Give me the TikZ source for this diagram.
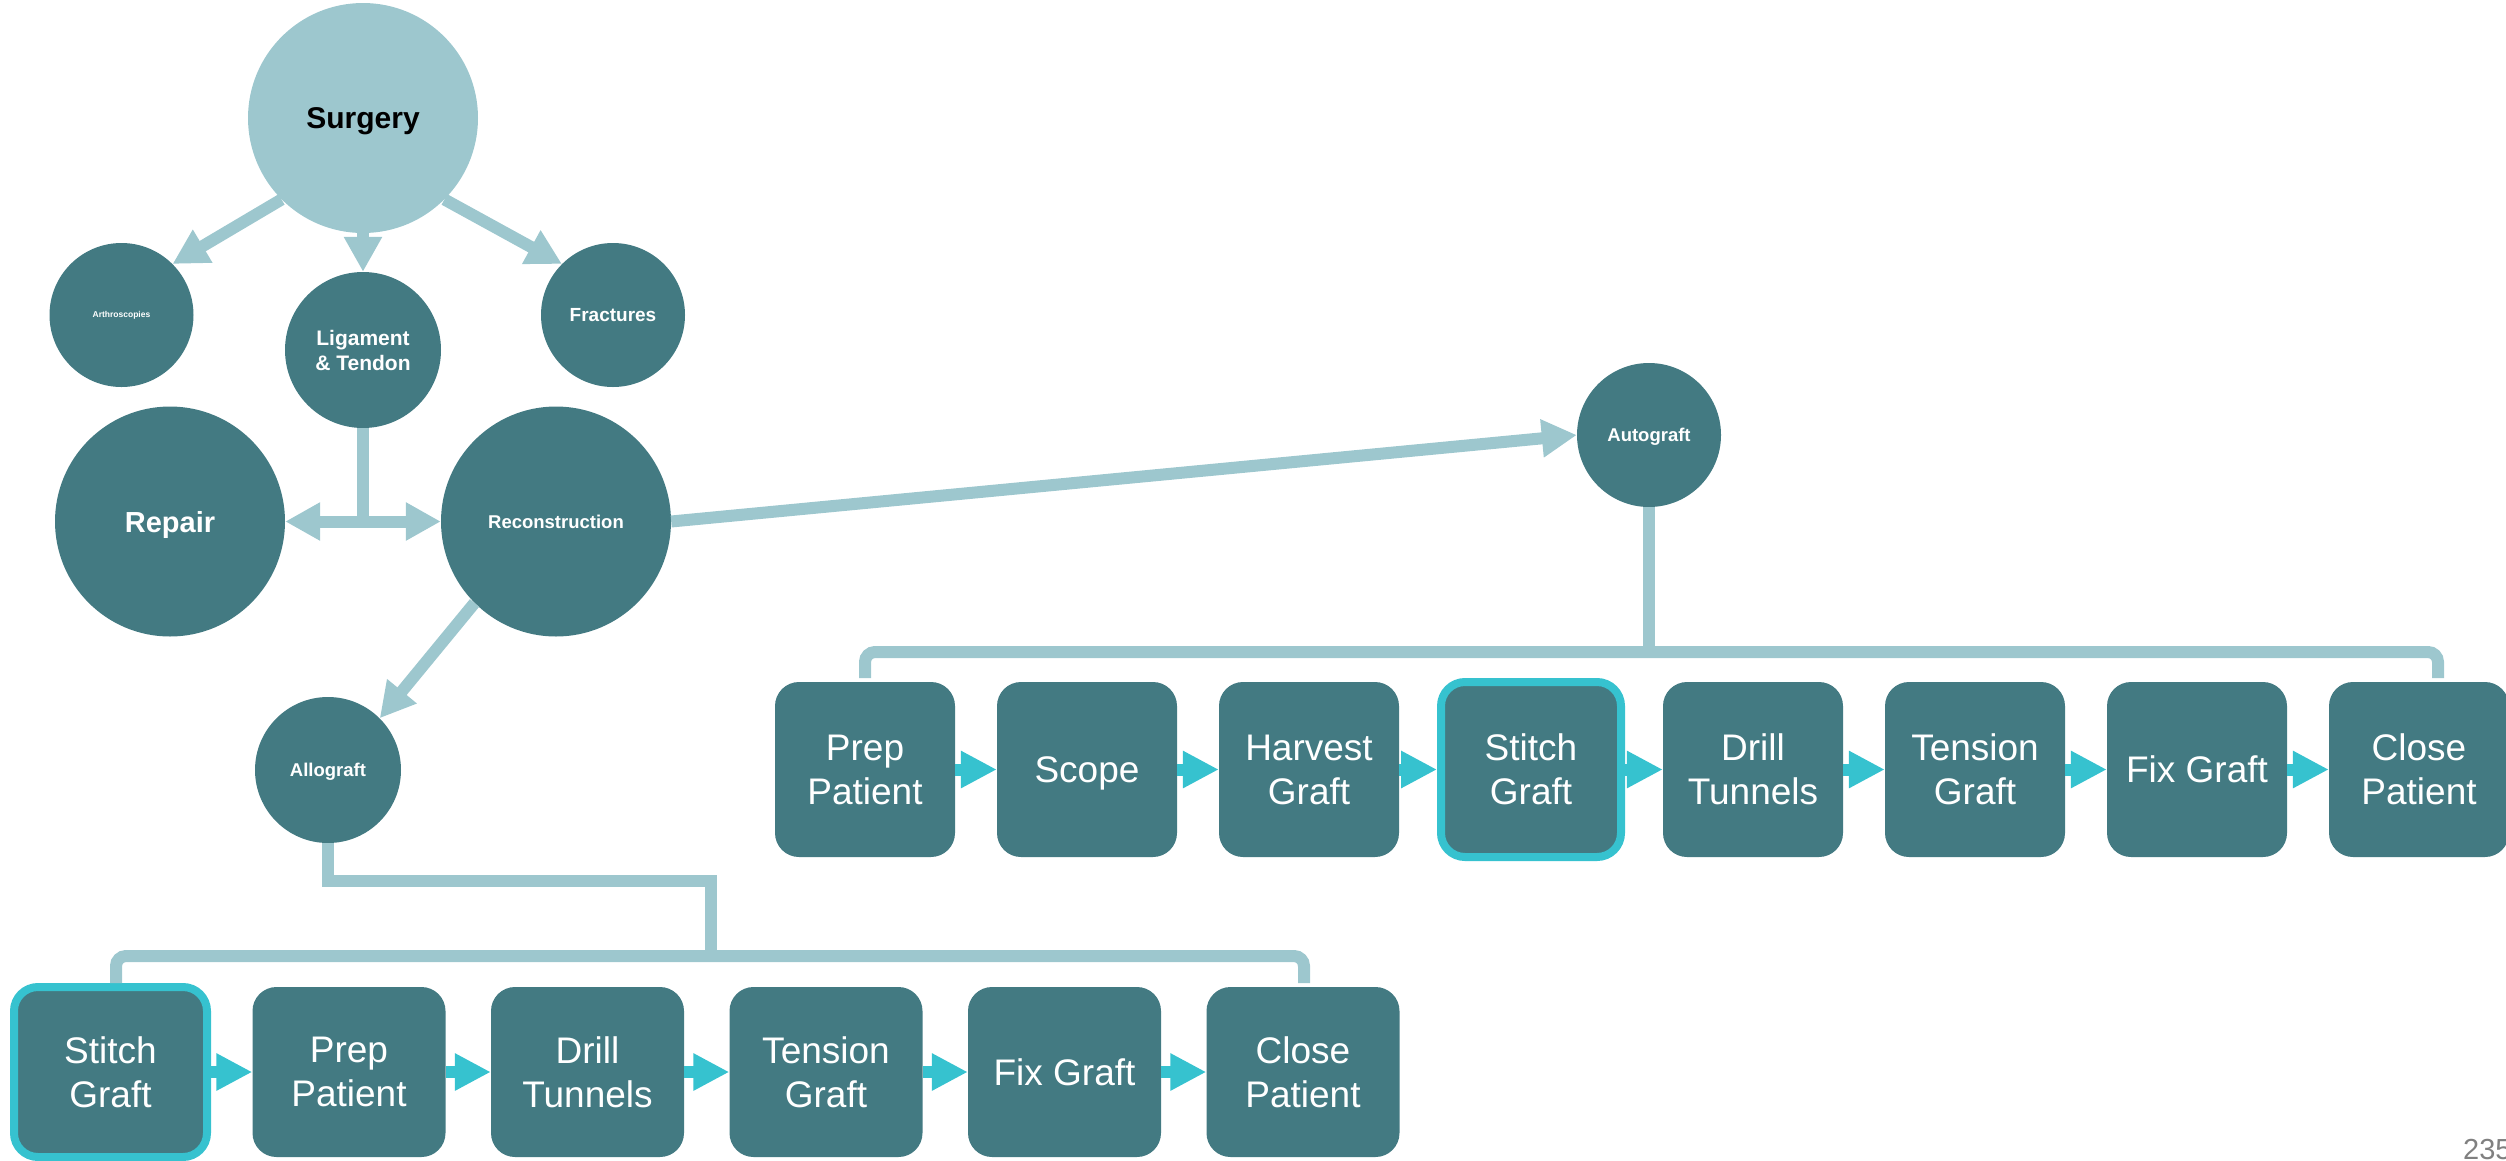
\documentclass[tikz,border=0pt]{standalone}
\usepackage{fontspec}
\setmainfont{Liberation Sans}
\usetikzlibrary{arrows.meta}

\definecolor{nodeTeal}{HTML}{437A82}
\definecolor{linkBlue}{HTML}{9DC7CE}
\definecolor{flowCyan}{HTML}{36C2CF}
\definecolor{pageGray}{HTML}{808080}

\tikzset{
  hub/.style={circle, fill=nodeTeal, text=white, inner sep=0pt, align=center},
  stepbox/.style={rectangle, rounded corners=24pt, fill=nodeTeal, text=white,
    inner sep=0pt, align=center, font=\fontsize{37}{44}\selectfont},
  topbox/.style={stepbox, minimum width=180pt, minimum height=175pt},
  lowbox/.style={stepbox, minimum width=193pt, minimum height=170pt},
  current/.style={draw=flowCyan, line width=8pt},
  link/.style={draw=linkBlue, line width=12pt},
  linkarrow/.style={link, -{Triangle[length=35pt,width=36pt]}},
  bracket/.style={link, rounded corners=10pt},
  flow/.style={draw=flowCyan, line width=12pt, -{Triangle[length=36pt,width=35pt]}}
}

\begin{document}
\begin{tikzpicture}[x=1pt, y=-1pt]
\useasboundingbox (0,0) rectangle (2506,1160);

% concept circles
\node[hub, fill=linkBlue, text=black, minimum size=230pt, text depth=0pt,
      font=\bfseries\fontsize{30}{36}\selectfont] (surg) at (363,118) {Surgery};
\node[hub, minimum size=144pt, font=\bfseries\fontsize{8.5}{10}\selectfont] (arth) at (121.5,315) {Arthroscopies};
\node[hub, minimum size=156pt, font=\bfseries\fontsize{21}{25}\selectfont] (lig) at (363,350) {Ligament\\\& Tendon};
\node[hub, minimum size=144pt, font=\bfseries\fontsize{19}{23}\selectfont] (frac) at (613,315) {Fractures};
\node[hub, minimum size=230pt, text depth=0pt, font=\bfseries\fontsize{29}{34}\selectfont] (rep) at (170,521.5) {Repair};
\node[hub, minimum size=230pt, font=\bfseries\fontsize{18.5}{22}\selectfont] (rec) at (556,521.5) {Reconstruction};
\node[hub, minimum size=146pt, text depth=0pt, font=\bfseries\fontsize{18.5}{22}\selectfont] (allo) at (328,770) {Allograft};
\node[hub, minimum size=144pt, text depth=0pt, font=\bfseries\fontsize{18.5}{22}\selectfont] (auto) at (1649,435) {Autograft};

% autograft steps
\node[topbox] (a1) at (865,769.5) {Prep\\Patient};
\node[topbox, text depth=0pt] (a2) at (1087,769.5) {Scope};
\node[topbox] (a3) at (1309,769.5) {Harvest\\Graft};
\node[topbox, current] (a4) at (1531,769.5) {Stitch\\Graft};
\node[topbox] (a5) at (1753,769.5) {Drill\\Tunnels};
\node[topbox] (a6) at (1975,769.5) {Tension\\Graft};
\node[topbox] (a7) at (2197,769.5) {Fix Graft};
\node[topbox] (a8) at (2419,769.5) {Close\\Patient};

% allograft steps
\node[lowbox, current] (b1) at (110.5,1072) {Stitch\\Graft};
\node[lowbox] (b2) at (349,1072) {Prep\\Patient};
\node[lowbox] (b3) at (587.5,1072) {Drill\\Tunnels};
\node[lowbox] (b4) at (826,1072) {Tension\\Graft};
\node[lowbox] (b5) at (1064.5,1072) {Fix Graft};
\node[lowbox] (b6) at (1303,1072) {Close\\Patient};

% page number
\node[anchor=base west, inner sep=0pt, text=pageGray,
      font=\fontsize{29}{34}\selectfont] (pg) at (2463,1159) {235};

% surgery branches
\draw[linkarrow] (surg.225) -- (arth.45);
\draw[linkarrow] (surg.south) -- (lig.north);
\draw[linkarrow] (surg.-45) -- (frac.135);

% ligament & tendon splits to repair / reconstruction
\draw[link] (lig.south) -- (lig.south |- rep.east);
\draw[link, {Triangle[length=35pt,width=36pt]}-{Triangle[length=35pt,width=36pt]}] (rep.east) -- (rec.west);

% reconstruction options
\draw[linkarrow] (rec.east) -- (auto.west);
\draw[linkarrow] (rec.225) -- (allo.45);

% autograft bracket
\coordinate (autoJ) at (1649,652);
\coordinate (autoL) at (865,678);
\coordinate (autoR) at (2438,678);
\draw[link] (auto.south) -- (autoJ);
\draw[bracket] (autoL) |- (autoJ) -| (autoR);

% allograft bracket
\coordinate (alloE) at (711,881);
\coordinate (alloJ) at (711,956);
\coordinate (alloL) at (116,983);
\coordinate (alloR) at (1304,983);
\draw[link, line join=miter] (allo.south) |- (alloE) -- (alloJ);
\draw[bracket] (alloL) |- (alloJ) -| (alloR);

% step flow arrows
\draw[flow] (a1.east) -- (a2.west);
\draw[flow] (a2.east) -- (a3.west);
\draw[flow] (a3.east) -- (a4.west);
\draw[flow] (a4.east) -- (a5.west);
\draw[flow] (a5.east) -- (a6.west);
\draw[flow] (a6.east) -- (a7.west);
\draw[flow] (a7.east) -- (a8.west);

\draw[flow] (b1.east) -- (b2.west);
\draw[flow] (b2.east) -- (b3.west);
\draw[flow] (b3.east) -- (b4.west);
\draw[flow] (b4.east) -- (b5.west);
\draw[flow] (b5.east) -- (b6.west);
\end{tikzpicture}
\end{document}
